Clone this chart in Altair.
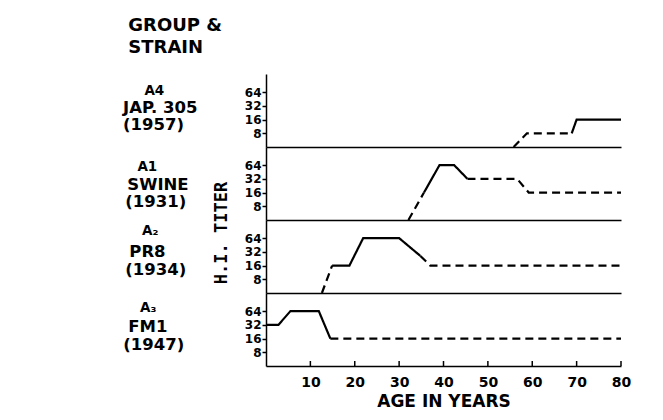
import altair as alt
import pandas as pd

# ---------------- data ----------------
panels = ["A4", "A1", "A2", "A3"]
group_names = ["A4", "A1", "A₂", "A₃"]
strain_names = ["JAP. 305", "SWINE", "PR8", "FM1"]
strain_years = ["(1957)", "(1931)", "(1934)", "(1947)"]

# each panel: list of segments (style, ages, titers); titer 4 = "<8" baseline
A4_style = ["dashed", "solid"]
A4_age = [[55.8, 58.8, 68.9], [68.9, 70.0, 80.0]]
A4_titer = [[4, 8, 8], [8, 16, 16]]

A1_style = ["dashed", "solid", "dashed"]
A1_age = [[32.1, 35.6], [35.6, 39.1, 42.4, 45.4], [45.4, 56.6, 59.2, 80.0]]
A1_titer = [[4, 16], [16, 64, 64, 32], [32, 32, 16, 16]]

A2_style = ["dashed", "solid", "dashed"]
A2_age = [[12.6, 14.9], [14.9, 18.8, 21.9, 30.0, 34.8], [34.8, 37.0, 80.0]]
A2_titer = [[4, 16], [16, 16, 64, 64, 26], [26, 16, 16]]

A3_style = ["solid", "dashed"]
A3_age = [[0.0, 2.8, 5.5, 11.9, 14.5], [14.5, 80.0]]
A3_titer = [[32, 32, 64, 64, 16], [16, 16]]

y_ticks = [8, 16, 32, 64]
x_ticks = [10, 20, 30, 40, 50, 60, 70, 80]

series = {
    "A4": (A4_style, A4_age, A4_titer),
    "A1": (A1_style, A1_age, A1_titer),
    "A2": (A2_style, A2_age, A2_titer),
    "A3": (A3_style, A3_age, A3_titer),
}

rows = []
for p, (styles, ages, titers) in series.items():
    for s, (st, ag, ti) in enumerate(zip(styles, ages, titers)):
        for k, (a, t) in enumerate(zip(ag, ti)):
            rows.append({"panel": p, "seg": f"{p}-{s}", "style": st,
                         "age": a, "titer": t, "idx": k})
df = pd.DataFrame(rows)

# ---------------- layout (pixels relative to each panel) ----------------
W, H = 355, 73
label_pos = {
    # (line1 center x, line1 y, line2 left x, line2 y, line3 left x, line3 y)
    "A4": (-111.7, 17, -143, 33.5, -143, 51),
    "A1": (-118.7, 19.5, -138.7, 37.5, -140.7, 55),
    "A2": (-115.7, 11, -136.7, 31.7, -140.7, 50),
    "A3": (-117.7, 15, -137.7, 33.7, -142.7, 52),
}

FONT = "DejaVu Sans"
one = alt.Data(values=[{}])


def txt(s, x, y, size, align="left", angle=0, font=FONT):
    kw = dict(text=s, align=align, baseline="middle", font=font,
              fontSize=size, fontWeight="bold", color="black")
    if angle:
        kw["angle"] = angle
    return alt.Chart(one).mark_text(**kw).encode(x=alt.value(x), y=alt.value(y))


x_scale = alt.Scale(domain=[0, 80], nice=False, zero=False)
y_scale = alt.Scale(type="log", base=2, domain=[4, 160], nice=False)

y_axis = alt.Axis(values=y_ticks, format="d", title=None, grid=False,
                  tickSize=4, tickColor="black", tickWidth=1.5,
                  labelPadding=1, labelOverlap=False,
                  labelFont=FONT, labelFontSize=12, labelFontWeight="bold",
                  labelColor="black", domainColor="black", domainWidth=1.5)


def panel(i):
    p = panels[i]
    bottom = i == len(panels) - 1
    if bottom:
        x_axis = alt.Axis(values=x_ticks, ticks=False, grid=False,
                          title="AGE IN YEARS", titlePadding=4,
                          titleFont=FONT, titleFontSize=17, titleFontWeight="bold",
                          titleColor="black",
                          labelPadding=9, labelFlush=False, labelOverlap=False,
                          labelFont=FONT, labelFontSize=14, labelFontWeight="bold",
                          labelColor="black", domainColor="black", domainWidth=1.5)
    else:
        x_axis = alt.Axis(labels=False, ticks=False, grid=False, title=None,
                          domainColor="black", domainWidth=1.5)
    d = df[df.panel == p]
    line = alt.Chart(d).mark_line(color="black", strokeWidth=2.2).encode(
        x=alt.X("age:Q", scale=x_scale, axis=x_axis),
        y=alt.Y("titer:Q", scale=y_scale, axis=y_axis),
        detail="seg:N",
        order="idx:Q",
        strokeDash=alt.StrokeDash("style:N", legend=None,
                                  scale=alt.Scale(domain=["solid", "dashed"],
                                                  range=[[1, 0], [8, 5]])),
    )
    layers = [line]
    x1, y1, x2, y2, x3, y3 = label_pos[p]
    layers.append(txt(group_names[i], x1, y1, 13.5, align="center"))
    layers.append(txt(strain_names[i], x2, y2, 16.5))
    layers.append(txt(strain_years[i], x3, y3, 16.5))
    if i == 0:
        layers.append(txt("GROUP &", -137.7, -48, 18))
        layers.append(txt("STRAIN", -137.7, -26, 18))
    if i == 1:
        layers.append(txt("H.I. TITER", -43.7, 86, 17, align="center",
                          angle=270, font="DejaVu Sans Mono"))
    if bottom:
        tick_df = pd.DataFrame({"age": x_ticks})
        ticks = alt.Chart(tick_df).mark_rule(color="black", strokeWidth=1.5).encode(
            x=alt.X("age:Q", scale=x_scale),
            y=alt.value(H - 5), y2=alt.value(H))
        layers.append(ticks)
    return alt.layer(*layers).properties(width=W, height=H)


chart = alt.vconcat(*[panel(i) for i in range(len(panels))],
                    spacing=0, bounds="flush").properties(
    padding={"left": 115, "top": 9, "right": 5, "bottom": 5},
    background="white",
).configure_view(strokeWidth=0)

chart.save("out.html", embed_options={"renderer": "svg", "actions": False})
